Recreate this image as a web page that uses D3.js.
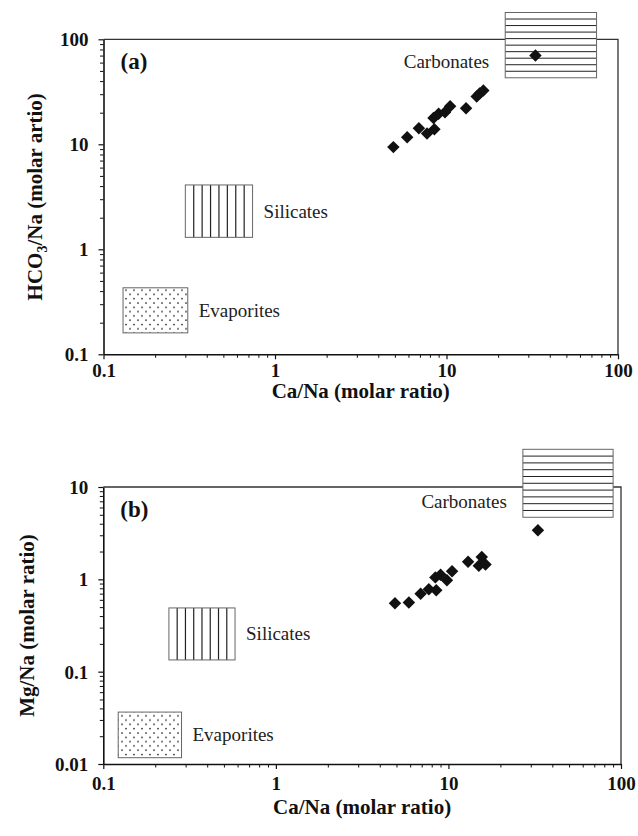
<!DOCTYPE html>
<html>
<head>
<meta charset="utf-8">
<script src="https://cdn.jsdelivr.net/npm/d3@7"></script>
<style>
  body { margin: 0; background: #fff; }
  text { font-family: "Liberation Serif", "Times New Roman", serif; }
</style>
</head>
<body>
<svg id="chart" width="638" height="836"></svg>
<script>
// sample ratios (same samples in both panels)
const caNa   = [4.9, 5.9, 6.9, 7.7, 8.5, 8.4, 9.0, 9.8, 10.5, 13.0, 15.0, 15.6, 16.4, 33];
const hco3Na = [9.4, 11.7, 14.2, 12.7, 13.9, 17.8, 19.5, 20.2, 23.0, 22.0, 28.5, 30.5, 32.5, 70];
const mgNa   = [0.55, 0.56, 0.70, 0.78, 0.76, 1.05, 1.12, 0.98, 1.22, 1.55, 1.40, 1.75, 1.45, 3.4];

// end-member fields: name, Ca/Na range, y range
const fieldNames = ["Carbonates", "Silicates", "Evaporites"];
const fieldCaA = [[22, 75], [0.30, 0.74], [0.13, 0.31]];
const fieldYA  = [[43, 180], [1.3, 4.1], [0.16, 0.43]];
const fieldCaB = [[27, 90], [0.24, 0.58], [0.122, 0.284]];
const fieldYB  = [[4.7, 25.6], [0.134, 0.49], [0.0117, 0.0365]];

const xTicks  = [0.1, 1, 10, 100];
const yTicksA = [0.1, 1, 10, 100];
const yTicksB = [0.01, 0.1, 1, 10];

const svg = d3.select("#chart");
const serif = '"Liberation Serif", "Times New Roman", serif';

// dotted fill for evaporites
const defs = svg.append("defs");
const dots = defs.append("pattern").attr("id", "dots")
  .attr("patternUnits", "userSpaceOnUse").attr("width", 8).attr("height", 8.6);
dots.append("rect").attr("width", 8).attr("height", 8.6).attr("fill", "#fff");
dots.append("circle").attr("cx", 2).attr("cy", 2).attr("r", 0.8).attr("fill", "#111");
dots.append("circle").attr("cx", 6).attr("cy", 6.3).attr("r", 0.8).attr("fill", "#111");

function minors(lo, hi) {
  const out = [];
  for (let d = lo; d < hi * 0.999; d *= 10)
    for (let k = 2; k < 10; k++) out.push(+(d * k).toPrecision(3));
  return out;
}

function panel(o) {
  const x = d3.scaleLog().domain([0.1, 100]).range([o.left, o.right]);
  const y = d3.scaleLog().domain([o.yTicks[0], o.yTicks[o.yTicks.length - 1]]).range([o.bottom, o.top]);
  const g = svg.append("g");

  // top / right frame
  g.append("path")
    .attr("d", `M${o.left},${o.top}H${o.right}V${o.bottom}`)
    .attr("fill", "none").attr("stroke", "#333").attr("stroke-width", 1.3);

  // fields
  fieldNames.forEach((name, i) => {
    const x0 = x(o.fieldCa[i][0]), x1 = x(o.fieldCa[i][1]);
    const y0 = y(o.fieldY[i][1]), y1 = y(o.fieldY[i][0]);
    const w = x1 - x0, h = y1 - y0;
    const fg = g.append("g");
    fg.append("rect").attr("x", x0).attr("y", y0).attr("width", w).attr("height", h)
      .attr("fill", name === "Evaporites" ? "url(#dots)" : "#fff");
    if (name === "Carbonates") {
      const n = 10;
      fg.selectAll("line").data(d3.range(1, n)).join("line")
        .attr("x1", x0).attr("x2", x1)
        .attr("y1", k => y0 + k * h / n).attr("y2", k => y0 + k * h / n)
        .attr("stroke", "#222").attr("stroke-width", 1);
    } else if (name === "Silicates") {
      const n = Math.round(w / 8);
      fg.selectAll("line").data(d3.range(1, n)).join("line")
        .attr("y1", y0).attr("y2", y1)
        .attr("x1", k => x0 + k * w / n).attr("x2", k => x0 + k * w / n)
        .attr("stroke", "#222").attr("stroke-width", 1.2);
    }
    fg.append("rect").attr("x", x0).attr("y", y0).attr("width", w).attr("height", h)
      .attr("fill", "none").attr("stroke", "#666").attr("stroke-width", 1);

    const t = g.append("text").text(name)
      .attr("font-size", 19).attr("fill", "#222").attr("dominant-baseline", "central");
    if (name === "Carbonates") t.attr("x", x0 - 16).attr("y", y1 - 16).attr("text-anchor", "end");
    else t.attr("x", x1 + 11).attr("y", y0 + h / 2);
  });

  // points
  g.selectAll("path.pt").data(d3.zip(caNa, o.yVals)).join("path")
    .attr("class", "pt")
    .attr("d", d3.symbol(d3.symbolSquare, 78))
    .attr("transform", d => `translate(${x(d[0])},${y(d[1])}) rotate(45)`)
    .attr("fill", "#111");

  // axes
  const fmt = d3.format("~g");
  const styleAxis = a => {
    a.attr("font-family", serif).attr("font-size", 19).attr("font-weight", "bold");
    a.select(".domain").attr("stroke", "#111").attr("stroke-width", 1.6);
    a.selectAll(".tick line").attr("stroke", "#111").attr("stroke-width", 1.2);
    a.selectAll(".tick text").attr("fill", "#111");
  };
  const xa = g.append("g").attr("transform", `translate(0,${o.bottom})`)
    .call(d3.axisBottom(x).tickValues(xTicks).tickFormat(fmt).tickSize(5).tickSizeOuter(0).tickPadding(o.xPad));
  styleAxis(xa);
  const xm = g.append("g").attr("transform", `translate(0,${o.bottom})`)
    .call(d3.axisBottom(x).tickValues(minors(0.1, 100)).tickFormat("").tickSize(3.5));
  xm.select(".domain").remove();
  xm.selectAll(".tick line").attr("stroke", "#111");

  const ya = g.append("g").attr("transform", `translate(${o.left},0)`)
    .call(d3.axisLeft(y).tickValues(o.yTicks).tickFormat(fmt).tickSize(5).tickSizeOuter(0).tickPadding(10));
  styleAxis(ya);
  ya.selectAll(".tick text").attr("dy", "0.35em");
  const ym = g.append("g").attr("transform", `translate(${o.left},0)`)
    .call(d3.axisLeft(y).tickValues(minors(o.yTicks[0], o.yTicks[o.yTicks.length - 1])).tickFormat("").tickSize(3.5));
  ym.select(".domain").remove();
  ym.selectAll(".tick line").attr("stroke", "#111");

  // titles
  g.append("text").attr("x", (o.left + o.right) / 2).attr("y", o.bottom + o.xTitleDy)
    .attr("text-anchor", "middle").attr("font-size", 21).attr("font-weight", "bold").attr("fill", "#111")
    .text("Ca/Na (molar ratio)");

  const yt = g.append("text")
    .attr("transform", `translate(${o.yTitleX},${(o.top + o.bottom) / 2}) rotate(-90)`)
    .attr("text-anchor", "middle").attr("font-size", 21).attr("font-weight", "bold").attr("fill", "#111");
  o.yTitle(yt);

  g.append("text").attr("x", o.left + 17).attr("y", o.top + 30)
    .attr("font-size", 23).attr("font-weight", "bold").attr("fill", "#111").text(o.tag);
}

panel({
  left: 103.5, right: 618, top: 39.3, bottom: 354.3,
  yTicks: yTicksA, yVals: hco3Na, fieldCa: fieldCaA, fieldY: fieldYA,
  yTitleX: 42, tag: "(a)", xPad: 4, xTitleDy: 44,
  yTitle: t => {
    t.append("tspan").text("HCO");
    t.append("tspan").text("3").attr("font-size", 14).attr("dy", 5);
    t.append("tspan").text("/Na (molar artio)").attr("dy", -5);
  }
});

panel({
  left: 103.3, right: 621, top: 487, bottom: 764,
  yTicks: yTicksB, yVals: mgNa, fieldCa: fieldCaB, fieldY: fieldYB,
  yTitleX: 34, tag: "(b)", xPad: 8, xTitleDy: 50,
  yTitle: t => t.text("Mg/Na (molar ratio)")
});
</script>
</body>
</html>
